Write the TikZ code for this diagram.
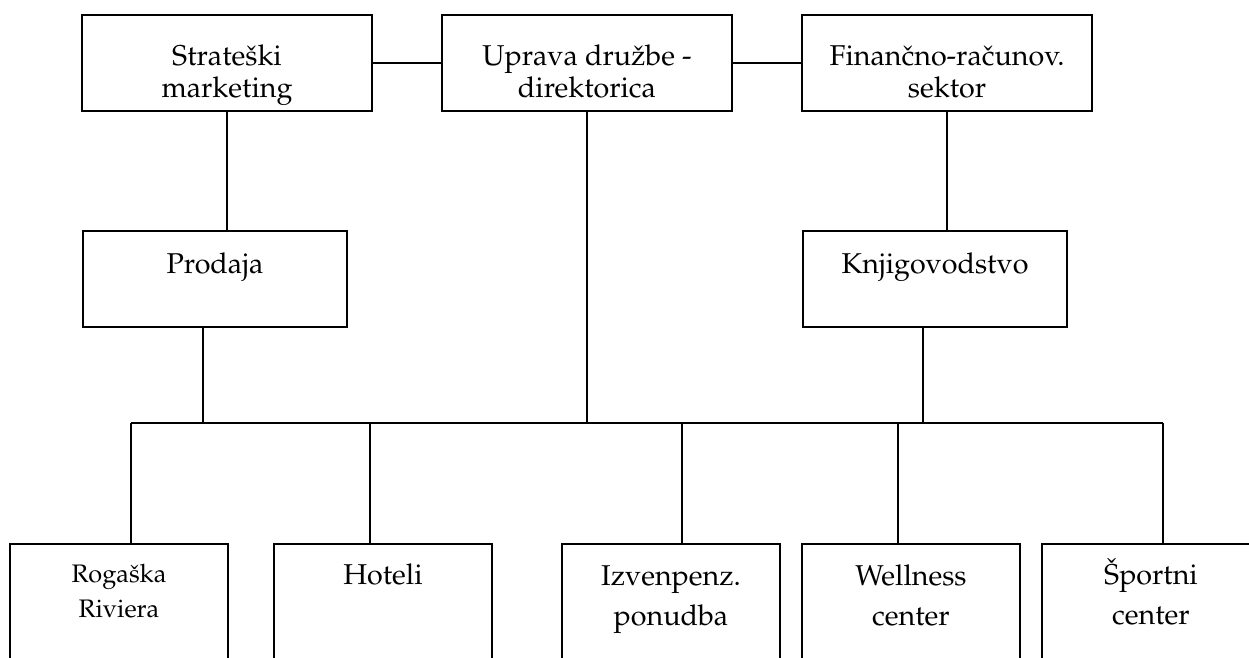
\documentclass[tikz,border=0pt]{standalone}
\usepackage[T1]{fontenc}
\usepackage{mathpazo}
% centred block of lines whose baseline is the first line
\newcommand\boxlines[1]{\parbox[t]{210pt}{\centering #1}}
\begin{document}
\begin{tikzpicture}[x=0.75pt,y=-0.75pt,line width=1.5pt,
  box/.style={draw,rectangle,inner sep=0pt,outer sep=0pt},
  topbox/.style={box,minimum width=217.5pt,minimum height=72pt},
  midbox/.style={box,minimum width=198pt,minimum height=72pt},
  unitbox/.style={box,minimum width=163.5pt,minimum height=132.75pt},
  lbl/.style={inner sep=0pt,outer sep=0pt,anchor=base,font=\fontsize{21.5}{24}\selectfont},
  lblwide/.style={lbl,font=\fontsize{21.5}{30}\selectfont},
  lblsmall/.style={lbl,font=\fontsize{19}{26.25}\selectfont}]
\useasboundingbox (0,0) rectangle (1249,657);
\clip (0,0) rectangle (1249,657);

% management level
\node[topbox] (sm) at (227,63) {};
\node[lbl] (smT) at (227,65) {\boxlines{Strate\v{s}ki\\marketing}};
\node[topbox] (ud) at (587,63) {};
\node[lbl] (udT) at (587,65) {\boxlines{Uprava dru\v{z}be -\\direktorica}};
\node[topbox] (fs) at (947,63) {};
\node[lbl] (fsT) at (947,65) {\boxlines{Finan\v{c}no-ra\v{c}unov.\\sektor}};

% middle level
\node[midbox] (pr) at (215,279) {};
\node[lbl] (prT) at (215,273) {\boxlines{Prodaja}};
\node[midbox] (kn) at (935,279) {};
\node[lbl] (knT) at (935,273) {\boxlines{Knjigovodstvo}};

% business units
\node[unitbox] (rr) at (119,632) {};
\node[lblsmall] (rrT) at (119,582.5) {\boxlines{Roga\v{s}ka\\Riviera}};
\node[unitbox] (ho) at (383,632) {};
\node[lblwide] (hoT) at (383,584) {\boxlines{Hoteli}};
\node[unitbox] (iz) at (671,632) {};
\node[lblwide] (izT) at (671,585) {\boxlines{Izvenpenz.\\ponudba}};
\node[unitbox] (we) at (911,632) {};
\node[lblwide] (weT) at (911,585) {\boxlines{Wellness\\center}};
\node[unitbox] (sp) at (1151,632) {};
\node[lblwide] (spT) at (1151,584) {\boxlines{\v{S}portni\\center}};

% bus junctions
\coordinate (d1) at (131,423);
\coordinate (d2) at (370,423);
\coordinate (d3) at (682,423);
\coordinate (d4) at (898,423);
\coordinate (d5) at (1163,423);

% connectors
\draw (sm.east) -- (ud.west);
\draw (ud.east) -- (fs.west);
\draw (sm.south) -- (sm.south |- pr.north);
\draw (fs.south) -- (fs.south |- kn.north);
\draw (ud.south) -- (ud.south |- d1);
\draw ([xshift=-9pt]pr.south) coordinate (prb) -- (prb |- d1);
\draw ([xshift=-9pt]kn.south) coordinate (knb) -- (knb |- d1);
\draw (d1) -- (d5);
\draw (d1) -- (d1 |- rr.north);
\draw (d2) -- (d2 |- ho.north);
\draw (d3) -- (d3 |- iz.north);
\draw (d4) -- (d4 |- we.north);
\draw (d5) -- (d5 |- sp.north);
\end{tikzpicture}
\end{document}
